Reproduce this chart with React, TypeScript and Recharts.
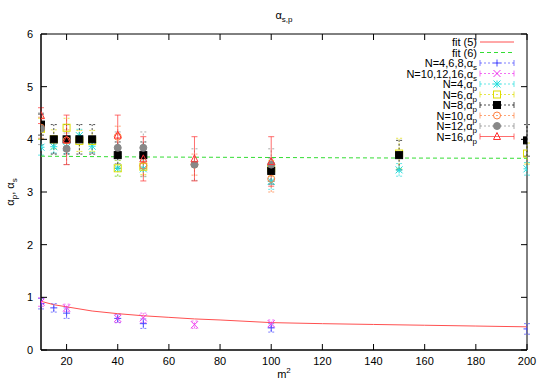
import React from 'react';
import { ComposedChart, Scatter, XAxis, YAxis, ErrorBar, ReferenceArea, Legend } from 'recharts';

const W = 545;
const H = 382;
const MARGIN = { top: 34, right: 18, bottom: 8, left: 11 };
const Y_AXIS_W = 30;
const X_AXIS_H = 24;
const PLOT_W = W - MARGIN.left - Y_AXIS_W - MARGIN.right;
const PLOT_H = H - MARGIN.top - MARGIN.bottom - X_AXIS_H;
const FONT = '"Liberation Sans", Arial, Helvetica, sans-serif';

const xTicks = [20, 40, 60, 80, 100, 120, 140, 160, 180, 200];
const yTicks = [0, 1, 2, 3, 4, 5, 6];

// fit (5): alpha_s curve
const fit5M2 = [10, 15, 20, 30, 40, 50, 60, 70, 80, 100, 120, 140, 160, 180, 200];
const fit5Val = [0.925, 0.86, 0.82, 0.74, 0.69, 0.65, 0.62, 0.59, 0.57, 0.52, 0.5, 0.485, 0.47, 0.455, 0.44];

// fit (6): alpha_p line
const fit6M2 = [10, 50, 100, 150, 200];
const fit6Val = [3.68, 3.665, 3.655, 3.645, 3.64];

// alpha_s
const asLowM2 = [10, 15, 20, 40, 50, 100, 200];
const asLowVal = [0.88, 0.8, 0.7, 0.6, 0.5, 0.42, 0.4];
const asLowErr = [0.1, 0.08, 0.1, 0.08, 0.09, 0.08, 0.1];

const asHighM2 = [10, 20, 40, 50, 70, 100];
const asHighVal = [0.91, 0.8, 0.6, 0.61, 0.48, 0.5];
const asHighErr = [0.08, 0.07, 0.08, 0.09, 0.07, 0.07];

// alpha_p
const n4M2 = [10, 15, 20, 25, 30, 40, 50, 100, 150, 200];
const n4Val = [3.85, 3.86, 3.85, 4.07, 3.87, 3.45, 3.44, 3.2, 3.42, 3.44];
const n4Err = [0.15, 0.12, 0.12, 0.12, 0.12, 0.15, 0.15, 0.15, 0.12, 0.12];

const n6M2 = [10, 15, 20, 25, 30, 40, 50, 100, 150, 200];
const n6Val = [4.2, 4.0, 4.22, 3.97, 3.97, 3.45, 3.48, 3.45, 3.73, 3.73];
const n6Err = [0.2, 0.18, 0.18, 0.2, 0.2, 0.15, 0.15, 0.15, 0.29, 0.2];

const n8M2 = [10, 15, 20, 25, 30, 40, 50, 100, 150, 200];
const n8Val = [4.28, 4.0, 4.0, 4.0, 4.0, 3.7, 3.7, 3.4, 3.7, 3.98];
const n8Err = [0.2, 0.28, 0.28, 0.28, 0.28, 0.25, 0.25, 0.25, 0.28, 0.3];

const n10M2 = [10, 20, 40, 50, 70, 100];
const n10Val = [4.22, 3.98, 4.05, 3.5, 3.52, 3.25];
const n10Err = [0.2, 0.2, 0.2, 0.2, 0.2, 0.25];

const n12M2 = [10, 20, 40, 50, 70, 100];
const n12Val = [4.2, 3.82, 3.84, 3.84, 3.52, 3.52];
const n12Err = [0.3, 0.3, 0.3, 0.3, 0.3, 0.3];

const n16M2 = [10, 20, 40, 50, 70, 100];
const n16Val = [4.45, 3.99, 4.08, 3.63, 3.63, 3.58];
const n16Err = [0.15, 0.47, 0.38, 0.42, 0.42, 0.47];

const toRows = (m2: number[], val: number[], err?: number[]) =>
  m2.map((x, i) => ({ x, y: val[i], e: err ? err[i] : 0 }));

type Kind = 'none' | 'plus' | 'cross' | 'star' | 'square' | 'squareFill' | 'circle' | 'circleFill' | 'triangle';

const Marker = ({ kind, cx, cy, color }: { kind: Kind; cx: number; cy: number; color: string }) => {
  const s = 3.5;
  switch (kind) {
    case 'plus':
      return (
        <g stroke={color}>
          <line x1={cx - s} x2={cx + s} y1={cy} y2={cy} />
          <line x1={cx} x2={cx} y1={cy - s} y2={cy + s} />
        </g>
      );
    case 'cross':
      return (
        <g stroke={color}>
          <line x1={cx - s} x2={cx + s} y1={cy - s} y2={cy + s} />
          <line x1={cx - s} x2={cx + s} y1={cy + s} y2={cy - s} />
        </g>
      );
    case 'star':
      return (
        <g stroke={color}>
          <line x1={cx - s} x2={cx + s} y1={cy} y2={cy} />
          <line x1={cx} x2={cx} y1={cy - s} y2={cy + s} />
          <line x1={cx - s} x2={cx + s} y1={cy - s} y2={cy + s} />
          <line x1={cx - s} x2={cx + s} y1={cy + s} y2={cy - s} />
        </g>
      );
    case 'square':
      return <rect x={cx - s} y={cy - s} width={2 * s} height={2 * s} fill="none" stroke={color} />;
    case 'squareFill':
      return <rect x={cx - s} y={cy - s} width={2 * s} height={2 * s} fill={color} stroke={color} />;
    case 'circle':
      return <circle cx={cx} cy={cy} r={s} fill="none" stroke={color} />;
    case 'circleFill':
      return <circle cx={cx} cy={cy} r={s} fill={color} stroke={color} />;
    case 'triangle':
      return (
        <polygon
          points={`${cx},${cy - s - 0.5} ${cx - s},${cy + s - 0.5} ${cx + s},${cy + s - 0.5}`}
          fill="none"
          stroke={color}
        />
      );
    default:
      return <g />;
  }
};

interface Series {
  name: string;
  sub: string;
  color: string;
  kind: Kind;
  dash?: string;
  rows: { x: number; y: number; e: number }[];
}

const fits: Series[] = [
  { name: 'fit (5)', sub: '', color: '#ff5050', kind: 'none', rows: toRows(fit5M2, fit5Val) },
  { name: 'fit (6)', sub: '', color: '#33dd33', kind: 'none', dash: '4 3', rows: toRows(fit6M2, fit6Val) },
];

const points: Series[] = [
  { name: 'N=4,6,8,\u03b1', sub: 's', color: '#4848ff', kind: 'plus', dash: '2 2', rows: toRows(asLowM2, asLowVal, asLowErr) },
  { name: 'N=10,12,16,\u03b1', sub: 's', color: '#ee33ee', kind: 'cross', dash: '2 2', rows: toRows(asHighM2, asHighVal, asHighErr) },
  { name: 'N=4,\u03b1', sub: 'p', color: '#22dddd', kind: 'star', dash: '2 2', rows: toRows(n4M2, n4Val, n4Err) },
  { name: 'N=6,\u03b1', sub: 'p', color: '#dddd00', kind: 'square', dash: '2 2', rows: toRows(n6M2, n6Val, n6Err) },
  { name: 'N=8,\u03b1', sub: 'p', color: '#000000', kind: 'squareFill', dash: '2 2', rows: toRows(n8M2, n8Val, n8Err) },
  { name: 'N=10,\u03b1', sub: 'p', color: '#ff8040', kind: 'circle', dash: '2 2', rows: toRows(n10M2, n10Val, n10Err) },
  { name: 'N=12,\u03b1', sub: 'p', color: '#888888', kind: 'circleFill', dash: '2 2', rows: toRows(n12M2, n12Val, n12Err) },
  { name: 'N=16,\u03b1', sub: 'p', color: '#ff3030', kind: 'triangle', rows: toRows(n16M2, n16Val, n16Err) },
];

const BottomTick = (props: any) => {
  const { x, y, payload } = props;
  return (
    <g>
      <line x1={x} x2={x} y1={y} y2={y - 6} stroke="#000" />
      <line x1={x} x2={x} y1={y - PLOT_H} y2={y - PLOT_H + 6} stroke="#000" />
      <text x={x} y={y + 15} textAnchor="middle" fontSize={11} fontFamily={FONT} fill="#000">
        {payload.value}
      </text>
    </g>
  );
};

const LeftTick = (props: any) => {
  const { x, y, payload } = props;
  return (
    <g>
      <line x1={x} x2={x + 6} y1={y} y2={y} stroke="#000" />
      <line x1={x + PLOT_W} x2={x + PLOT_W - 6} y1={y} y2={y} stroke="#000" />
      <text x={x - 8} y={y + 4} textAnchor="end" fontSize={11} fontFamily={FONT} fill="#000">
        {payload.value}
      </text>
    </g>
  );
};

const LegendBox = () => {
  const all = [...fits, ...points];
  const textX = 107;
  const x0 = 110;
  const x1 = 144;
  return (
    <svg width={170} height={112} style={{ display: 'block' }}>
      {all.map((s, i) => {
        const y = 6 + i * 10.5;
        const hasBars = s.kind !== 'none';
        return (
          <g key={s.name + s.sub}>
            <text x={textX} y={y + 4} textAnchor="end" fontSize={11} fontFamily={FONT} fill="#000">
              {s.name}
              {s.sub && (
                <tspan fontSize={8} dy={3}>
                  {s.sub}
                </tspan>
              )}
            </text>
            <g strokeOpacity={hasBars ? 0.7 : 1}>
              <line x1={x0} x2={x1} y1={y} y2={y} stroke={s.color} strokeDasharray={s.dash} />
              {hasBars && <line x1={x0} x2={x0} y1={y - 3} y2={y + 3} stroke={s.color} />}
              {hasBars && <line x1={x1} x2={x1} y1={y - 3} y2={y + 3} stroke={s.color} />}
            </g>
            <Marker kind={s.kind} cx={(x0 + x1) / 2} cy={y} color={s.color} />
          </g>
        );
      })}
    </svg>
  );
};

export default function App() {
  const plotCx = MARGIN.left + Y_AXIS_W + PLOT_W / 2;
  const plotCy = MARGIN.top + PLOT_H / 2;
  return (
    <div style={{ position: 'absolute', left: 0, top: 0, width: W, height: H, background: '#fff' }}>
      <ComposedChart width={W} height={H} margin={MARGIN}>
        <XAxis
          type="number"
          dataKey="x"
          domain={[10, 200]}
          ticks={xTicks}
          allowDataOverflow
          height={X_AXIS_H}
          tickSize={0}
          tickMargin={0}
          tickLine={false}
          axisLine={{ stroke: '#000' }}
          tick={<BottomTick />}
        />
        <YAxis
          type="number"
          dataKey="y"
          domain={[0, 6]}
          ticks={yTicks}
          allowDataOverflow
          width={Y_AXIS_W}
          tickSize={0}
          tickMargin={0}
          tickLine={false}
          axisLine={{ stroke: '#000' }}
          tick={<LeftTick />}
        />
        <ReferenceArea x1={10} x2={200} y1={0} y2={6} fill="none" stroke="#000" strokeOpacity={1} />
        {fits.map((s) => (
          <Scatter
            key={s.name}
            data={s.rows}
            line={{ stroke: s.color, strokeWidth: 1, strokeDasharray: s.dash }}
            lineType="joint"
            shape={() => <g />}
            isAnimationActive={false}
          />
        ))}
        {points.map((s) => (
          <Scatter
            key={s.name + s.sub}
            data={s.rows}
            shape={(p: any) => <Marker kind={s.kind} cx={p.cx} cy={p.cy} color={s.color} />}
            isAnimationActive={false}
          >
            <ErrorBar
              dataKey="e"
              direction="y"
              width={3}
              stroke={s.color}
              strokeWidth={1}
              strokeOpacity={0.7}
              strokeDasharray={s.dash}
            />
          </Scatter>
        ))}
        <Legend
          layout="vertical"
          align="center"
          verticalAlign="middle"
          content={() => <LegendBox />}
          wrapperStyle={{ top: 36, left: 370, width: 170, height: 112 }}
        />
      </ComposedChart>
      <svg
        width={W}
        height={H}
        style={{ position: 'absolute', left: 0, top: 0, pointerEvents: 'none' }}
      >
        <text x={plotCx} y={19} textAnchor="middle" fontSize={11} fontFamily={FONT} fill="#000">
          {'\u03b1'}
          <tspan fontSize={8} dy={3}>
            s,p
          </tspan>
        </text>
        <text x={plotCx} y={378} textAnchor="middle" fontSize={11} fontFamily={FONT} fill="#000">
          m
          <tspan fontSize={8} dy={-5}>
            2
          </tspan>
        </text>
        <text
          transform={`translate(14, ${plotCy}) rotate(-90)`}
          textAnchor="middle"
          fontSize={11}
          fontFamily={FONT}
          fill="#000"
        >
          {'\u03b1'}
          <tspan fontSize={8} dy={3}>
            p
          </tspan>
          <tspan dy={-3}>, {'\u03b1'}</tspan>
          <tspan fontSize={8} dy={3}>
            s
          </tspan>
        </text>
      </svg>
    </div>
  );
}
